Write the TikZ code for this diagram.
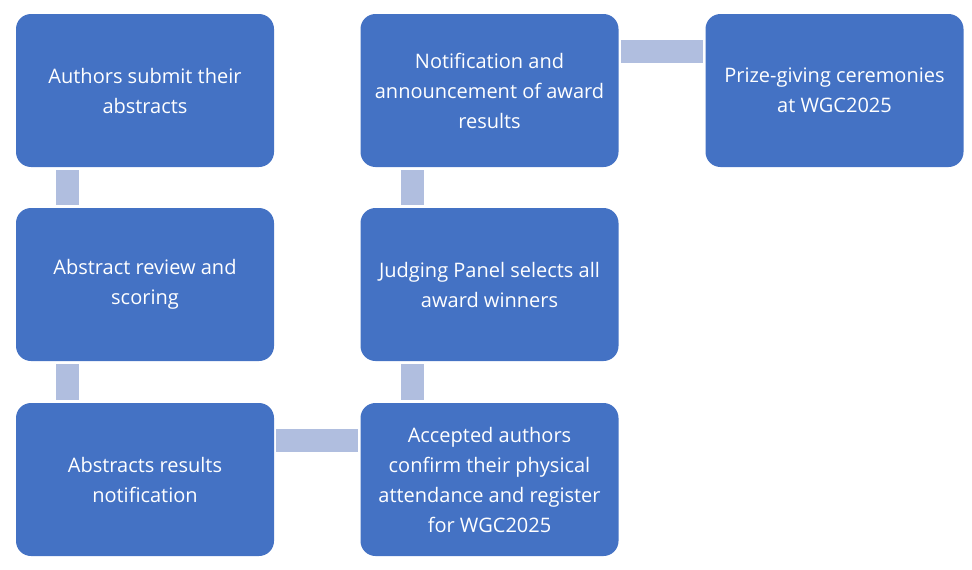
\documentclass[tikz,border=0pt]{standalone}
\usepackage{fontspec}
\setmainfont{Open Sans}
\begin{document}
\begin{tikzpicture}[x=1pt,y=-1pt,
  stepbox/.style={fill=boxblue, rounded corners=15pt, minimum width=258pt, minimum height=153pt,
    text=white, align=center, inner sep=0pt, font=\fontsize{20}{30}\selectfont},
  link/.style={fill=linkblue}]
\definecolor{boxblue}{HTML}{4472C4}
\definecolor{linkblue}{HTML}{B0BEDF}
\useasboundingbox (0,0) rectangle (972,570);
\node[stepbox] (a) at (145,90.5) {Authors submit their\\abstracts};
\node[stepbox] (b) at (145,284.5) {Abstract review and\\scoring};
\node[stepbox] (c) at (145,479.5) {Abstracts results\\notification};
\node[stepbox] (d) at (489.5,479.5) {Accepted authors\\confirm their physical\\attendance and register\\for WGC2025};
\node[stepbox] (e) at (489.5,284.5) {Judging Panel selects all\\award winners};
\node[stepbox] (f) at (489.5,90.5) {Notification and\\announcement of award\\results};
\node[stepbox] (g) at (834.5,90.5) {Prize-giving ceremonies\\at WGC2025};
% connectors
\fill[link] ([xshift=-89pt,yshift=-3pt]a.south) rectangle ([xshift=-66pt,yshift=3pt]b.north);
\fill[link] ([xshift=-89pt,yshift=-3pt]b.south) rectangle ([xshift=-66pt,yshift=3pt]c.north);
\fill[link] ([xshift=2pt,yshift=50.5pt]c.east) rectangle ([xshift=-2pt,yshift=27.5pt]d.west);
\fill[link] ([xshift=-89pt,yshift=-3pt]e.south) rectangle ([xshift=-66pt,yshift=3pt]d.north);
\fill[link] ([xshift=-89pt,yshift=-3pt]f.south) rectangle ([xshift=-66pt,yshift=3pt]e.north);
\fill[link] ([xshift=2pt,yshift=50.5pt]f.east) rectangle ([xshift=-2pt,yshift=27.5pt]g.west);
\end{tikzpicture}
\end{document}
